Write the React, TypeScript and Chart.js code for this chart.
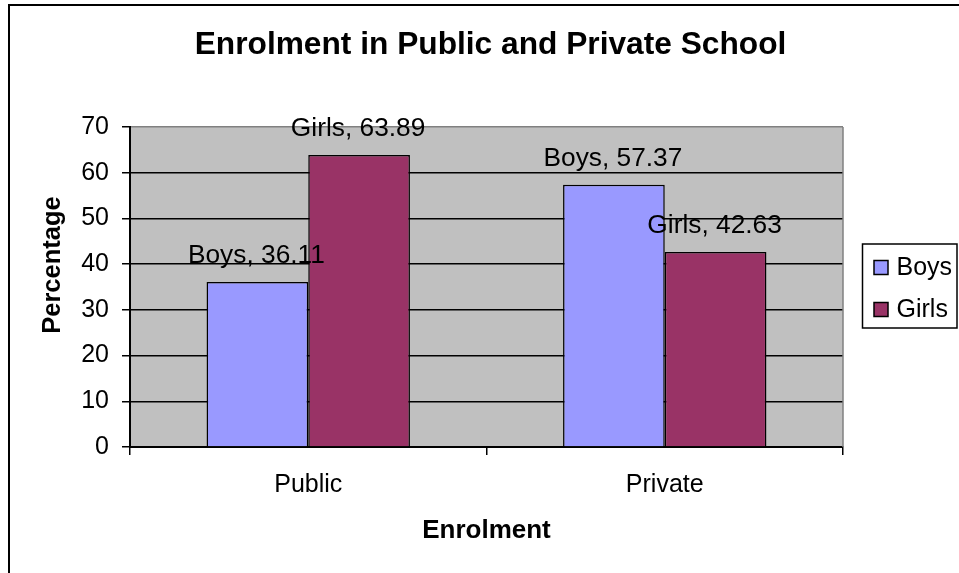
import React, { useEffect, useRef } from "react";
import { Chart, registerables } from "chart.js";

Chart.register(...registerables);

const categories = ["Public", "Private"];
const seriesNames = ["Boys", "Girls"];
const boysValues = [36.11, 57.37];
const girlsValues = [63.89, 42.63];
const seriesColors = ["#9999FF", "#993366"];
const yMin = 0;
const yMax = 70;
const yStep = 10;
const chartTitle = "Enrolment in Public and Private School";
const xAxisTitle = "Enrolment";
const yAxisTitle = "Percentage";

const FONT = '"Liberation Sans", Arial, sans-serif';

const decorPlugin = {
  id: "decor",
  beforeDraw(chart: any) {
    const { ctx, chartArea } = chart;
    ctx.save();
    ctx.fillStyle = "#ffffff";
    ctx.fillRect(0, 0, chart.width, chart.height);
    ctx.fillStyle = "#C0C0C0";
    ctx.fillRect(chartArea.left, chartArea.top, chartArea.right - chartArea.left, chartArea.bottom - chartArea.top);
    // outer frame
    ctx.strokeStyle = "#000";
    ctx.lineWidth = 2;
    ctx.strokeRect(9, 5, 3000, 3000);
    ctx.restore();
  },
  afterDatasetsDraw(chart: any) {
    const { ctx, chartArea } = chart;
    ctx.save();
    // right plot border gray
    ctx.strokeStyle = "#808080";
    ctx.lineWidth = 1.5;
    ctx.beginPath();
    ctx.moveTo(chartArea.right, chartArea.top);
    ctx.lineTo(chartArea.right, chartArea.bottom);
    ctx.stroke();
    // data labels
    ctx.fillStyle = "#000";
    ctx.font = `26.3px ${FONT}`;
    ctx.textAlign = "center";
    ctx.textBaseline = "alphabetic";
    chart.data.datasets.forEach((ds: any, di: number) => {
      const meta = chart.getDatasetMeta(di);
      meta.data.forEach((bar: any, i: number) => {
        ctx.fillText(`${ds.label}, ${ds.data[i]}`, bar.x - 1, bar.y - 19);
      });
    });
    ctx.restore();
  },
  afterDraw(chart: any) {
    const { ctx } = chart;
    ctx.save();
    ctx.fillStyle = "#000";
    // title
    ctx.font = `bold 31.7px ${FONT}`;
    ctx.textAlign = "center";
    ctx.textBaseline = "middle";
    ctx.fillText(chartTitle, 490.5, 45.5);
    // x axis title
    ctx.font = `bold 26px ${FONT}`;
    ctx.fillText(xAxisTitle, 486.5, 530.6);
    // y axis title
    ctx.font = `bold 25.5px ${FONT}`;
    ctx.save();
    ctx.translate(53, 265);
    ctx.rotate(-Math.PI / 2);
    ctx.fillText(yAxisTitle, 0, 0);
    ctx.restore();
    // legend
    ctx.strokeStyle = "#000";
    ctx.lineWidth = 1.5;
    ctx.strokeRect(862.5, 244, 94.5, 84);
    const rows = [267.5, 309.5];
    chart.data.datasets.forEach((ds: any, di: number) => {
      const cy = rows[di];
      ctx.fillStyle = ds.backgroundColor;
      ctx.fillRect(874, cy - 7, 14, 14);
      ctx.strokeStyle = "#000";
      ctx.lineWidth = 1.5;
      ctx.strokeRect(874, cy - 7, 14, 14);
      ctx.fillStyle = "#000";
      ctx.font = `25px ${FONT}`;
      ctx.textAlign = "left";
      ctx.textBaseline = "middle";
      ctx.fillText(ds.label, 896.5, cy + 0.5);
    });
    ctx.restore();
  },
};

export default function App() {
  const canvasRef = useRef<HTMLCanvasElement | null>(null);

  useEffect(() => {
    if (!canvasRef.current) return;
    Chart.defaults.font.family = FONT;
    const chart = new Chart(canvasRef.current, {
      type: "bar",
      data: {
        labels: categories,
        datasets: [
          {
            label: seriesNames[0],
            data: boysValues,
            backgroundColor: seriesColors[0],
            borderColor: "#000",
            borderWidth: 1.5,
            categoryPercentage: 0.5705,
            barPercentage: 1,
          },
          {
            label: seriesNames[1],
            data: girlsValues,
            backgroundColor: seriesColors[1],
            borderColor: "#000",
            borderWidth: 1.5,
            categoryPercentage: 0.5705,
            barPercentage: 1,
          },
        ],
      },
      options: {
        animation: false,
        responsive: false,
        devicePixelRatio: 1,
        layout: { padding: { left: 10, top: 127, right: 116, bottom: 0 } },
        plugins: {
          legend: { display: false },
          title: { display: false },
          tooltip: { enabled: false },
        },
        scales: {
          x: {
            offset: true,
            grid: {
              offset: true,
              drawOnChartArea: false,
              drawTicks: true,
              tickLength: 8,
              color: "#000",
              lineWidth: 1.5,
            },
            border: { color: "#000", width: 2 },
            ticks: { color: "#000", font: { size: 25, family: FONT }, padding: 15 },
            afterFit(scale: any) {
              scale.height = 126;
            },
          },
          y: {
            min: yMin,
            max: yMax,
            ticks: { stepSize: yStep, color: "#000", font: { size: 25, family: FONT }, padding: 13 },
            grid: {
              color: (ctx: any) => (ctx.tick && ctx.tick.value === yMax ? "#808080" : "#000"),
              tickColor: "#000",
              tickLength: 8,
              lineWidth: 1.5,
            },
            border: { color: "#000", width: 2 },
            afterFit(scale: any) {
              scale.width = 120;
            },
          },
        },
      },
      plugins: [decorPlugin],
    });
    return () => chart.destroy();
  }, []);

  return (
    <div style={{ position: "fixed", left: 0, top: 0, width: 959, height: 573 }}>
      <canvas ref={canvasRef} width={959} height={573} style={{ display: "block" }} />
    </div>
  );
}
